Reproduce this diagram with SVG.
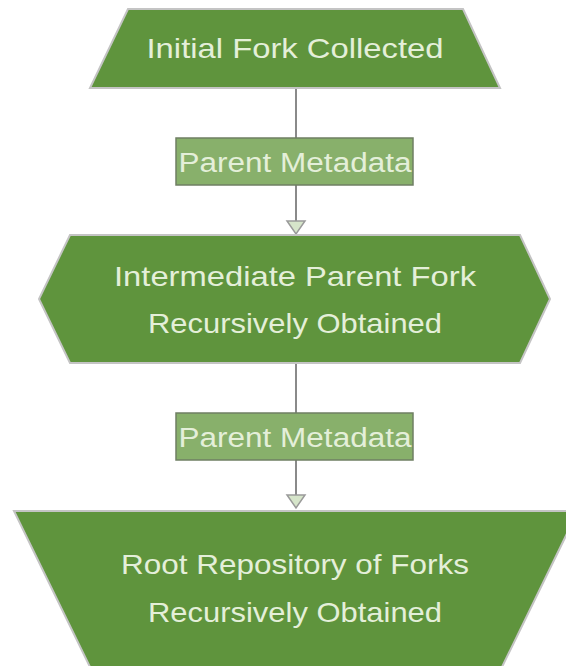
<svg xmlns="http://www.w3.org/2000/svg" width="566" height="666" viewBox="0 0 566 666">
<defs>
<style>
.node{fill:#5f943d;stroke:#c4c4c4;stroke-width:2}
.nt{fill:#e4efd9;font-family:"Liberation Sans",Arial,sans-serif;font-size:28px;text-anchor:middle}
.lbl{fill:#88b06b;stroke:#6f7f63;stroke-width:1.5}
.lt{fill:#e4efd9;font-family:"Liberation Sans",Arial,sans-serif;font-size:27px;text-anchor:middle}
.edge{stroke:#8a8a8a;stroke-width:2;fill:none}
.ah{fill:#d6e5ca;stroke:#9a9a9a;stroke-width:1.5}
</style>
</defs>
<rect width="566" height="666" fill="#ffffff"/>
<g id="connectors">
<line class="edge" x1="296" y1="88" x2="296" y2="222"/>
<polygon class="ah" points="287,221 305,221 296,234"/>
<line class="edge" x1="296" y1="363" x2="296" y2="496"/>
<polygon class="ah" points="287,495 305,495 296,508"/>
</g>
<g id="node1">
<polygon class="node" points="128,9 463,9 500,88 90,88"/>
<text class="nt" x="295" y="58" textLength="297" lengthAdjust="spacingAndGlyphs">Initial Fork Collected</text>
</g>
<g id="label1">
<rect class="lbl" x="176" y="138" width="237" height="47"/>
<text class="lt" x="295" y="172" textLength="233" lengthAdjust="spacingAndGlyphs">Parent Metadata</text>
</g>
<g id="node2">
<polygon class="node" points="70,235 520,235 550,299 520,363 70,363 39,299"/>
<text class="nt" x="295" y="286" textLength="362" lengthAdjust="spacingAndGlyphs">Intermediate Parent Fork</text>
<text class="nt" x="295" y="333" textLength="294" lengthAdjust="spacingAndGlyphs">Recursively Obtained</text>
</g>
<g id="label2">
<rect class="lbl" x="176" y="413" width="237" height="47"/>
<text class="lt" x="295" y="447" textLength="233" lengthAdjust="spacingAndGlyphs">Parent Metadata</text>
</g>
<g id="node3">
<polygon class="node" points="14,511 578,511 502,667 90,667"/>
<text class="nt" x="295" y="574" textLength="348" lengthAdjust="spacingAndGlyphs">Root Repository of Forks</text>
<text class="nt" x="295" y="622" textLength="294" lengthAdjust="spacingAndGlyphs">Recursively Obtained</text>
</g>
</svg>
